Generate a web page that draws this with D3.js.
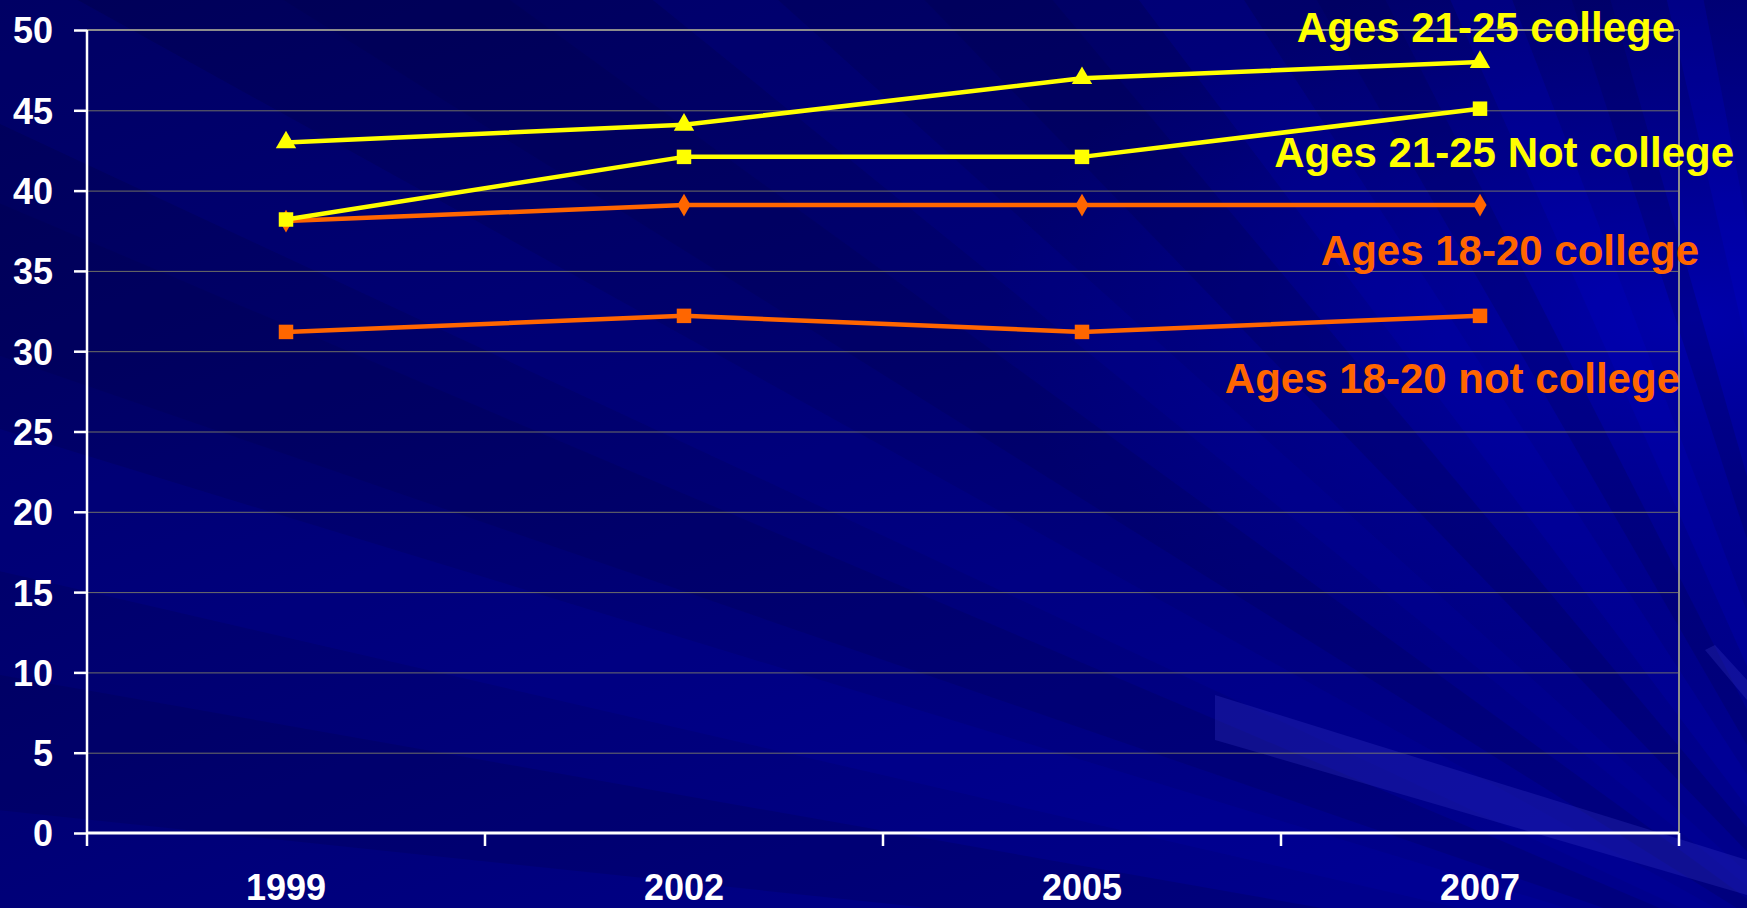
<!DOCTYPE html>
<html>
<head>
<meta charset="utf-8">
<script src="https://cdn.jsdelivr.net/npm/d3@7"></script>
<style>
  html, body { margin: 0; padding: 0; background: #00006e; overflow: hidden; }
  svg { display: block; }
  text { font-family: "Liberation Sans", Arial, sans-serif; font-weight: bold; }
</style>
</head>
<body>
<svg id="chart" width="1747" height="908"></svg>
<script>
// ---------------- DATA ----------------
const years = ["1999", "2002", "2005", "2007"];
const seriesNames = ["Ages 18-20 not college", "Ages 18-20 college", "Ages 21-25 Not college", "Ages 21-25 college"];
const notCollege1820 = [31.2, 32.2, 31.2, 32.2];
const college1820 = [38.1, 39.1, 39.1, 39.1];
const notCollege2125 = [38.2, 42.1, 42.1, 45.1];
const college2125 = [43, 44.1, 47, 48];
const yTickValues = [0, 5, 10, 15, 20, 25, 30, 35, 40, 45, 50];

// ---------------- LAYOUT / STYLE ----------------
const W = 1747, H = 908;
const plot = { left: 87, right: 1679, top: 30, bottom: 833 };
const ORANGE = "#ff6600", YELLOW = "#ffff00";
const seriesStyle = [
  { values: notCollege1820, color: ORANGE, marker: "square",  label: { x: 1680, y: 393 } },
  { values: college1820,    color: ORANGE, marker: "diamond", label: { x: 1699, y: 265 } },
  { values: notCollege2125, color: YELLOW, marker: "square",  label: { x: 1734, y: 167 } },
  { values: college2125,    color: YELLOW, marker: "triangle",label: { x: 1675, y: 42 } }
];

const svg = d3.select("#chart");

// ---------------- BACKGROUND (decorative) ----------------
const defs = svg.append("defs");
const bg = defs.append("linearGradient").attr("id", "bg")
  .attr("x1", "0").attr("y1", "0").attr("x2", "0.75").attr("y2", "1");
bg.append("stop").attr("offset", "0").attr("stop-color", "#000058");
bg.append("stop").attr("offset", "0.45").attr("stop-color", "#00006e");
bg.append("stop").attr("offset", "1").attr("stop-color", "#00008c");
svg.append("rect").attr("width", W).attr("height", H).attr("fill", "url(#bg)");

// right-side brighter glow
const glow = defs.append("radialGradient").attr("id", "glow")
  .attr("cx", "0.97").attr("cy", "0.35").attr("r", "0.4");
glow.append("stop").attr("offset", "0").attr("stop-color", "#0000b0").attr("stop-opacity", 0.9);
glow.append("stop").attr("offset", "1").attr("stop-color", "#00009c").attr("stop-opacity", 0);
svg.append("rect").attr("width", W).attr("height", H).attr("fill", "url(#glow)");

// radiating beams from lower right
const O = [1900, 1010];
const beams = [
  { a1: 186, a2: 190, c: "#000040", o: 0.2 },
  { a1: 193, a2: 197, c: "#0000c0", o: 0.14 },
  { a1: 199, a2: 203, c: "#000040", o: 0.18 },
  { a1: 205, a2: 209, c: "#0000c0", o: 0.12 },
  { a1: 212, a2: 216, c: "#000040", o: 0.18 },
  { a1: 219, a2: 222, c: "#0000c0", o: 0.12 },
  { a1: 226, a2: 230, c: "#000040", o: 0.2 },
  { a1: 233, a2: 237, c: "#0000d0", o: 0.15 },
  { a1: 240, a2: 243, c: "#000050", o: 0.25 },
  { a1: 246, a2: 249, c: "#0000d0", o: 0.18 },
  { a1: 252, a2: 254, c: "#000050", o: 0.25 },
  { a1: 257, a2: 259, c: "#0000e0", o: 0.18 }
];
const R = 3000;
beams.forEach(b => {
  const p = (a) => [O[0] + R * Math.cos(a * Math.PI / 180), O[1] + R * Math.sin(a * Math.PI / 180)];
  const p1 = p(b.a1), p2 = p(b.a2);
  svg.append("polygon")
    .attr("points", [O, p1, p2].map(d => d.join(",")).join(" "))
    .attr("fill", b.c).attr("opacity", b.o);
});
// light beam lower right
svg.append("polygon")
  .attr("points", "1215,695 1747,860 1747,895 1215,740")
  .attr("fill", "#4040d0").attr("opacity", 0.25);
svg.append("polygon")
  .attr("points", "1705,650 1715,645 1747,680 1747,700")
  .attr("fill", "#4040d0").attr("opacity", 0.25);

// ---------------- SCALES ----------------
const x = d3.scaleBand().domain(years).range([plot.left, plot.right]);
const y = d3.scaleLinear().domain([0, 50]).range([plot.bottom, plot.top]);

// ---------------- GRID ----------------
svg.append("g").selectAll("line")
  .data(yTickValues.filter(v => v > 0 && v < 50))
  .join("line")
  .attr("x1", plot.left).attr("x2", plot.right)
  .attr("y1", d => y(d) + 0.5).attr("y2", d => y(d) + 0.5)
  .attr("stroke", "#8a8a66").attr("stroke-width", 1).attr("opacity", 0.8);
// top and right borders
svg.append("line").attr("x1", plot.left).attr("x2", plot.right)
  .attr("y1", y(50)).attr("y2", y(50)).attr("stroke", "#8c8c8c").attr("stroke-width", 2);
svg.append("line").attr("x1", plot.right).attr("x2", plot.right)
  .attr("y1", y(50)).attr("y2", plot.bottom).attr("stroke", "#8c8c8c").attr("stroke-width", 2);

// ---------------- AXES ----------------
const yAxis = d3.axisLeft(y).tickValues(yTickValues).tickSize(13).tickPadding(8).tickFormat(d3.format("d"));
const gy = svg.append("g").attr("transform", `translate(${plot.left},0)`).call(yAxis);
gy.select(".domain").attr("stroke", "#ffffff").attr("stroke-width", 2.5).attr("d", `M0,${plot.top}V${plot.bottom}`);
gy.selectAll(".tick line").attr("stroke", "#ffffff").attr("stroke-width", 2.5);
gy.selectAll(".tick text").attr("fill", "#ffffff").attr("font-size", 36)
  .attr("x", -34).attr("dy", "0.36em");

// x axis: ticks at category boundaries
const boundaries = years.map(yr => x(yr)).concat([plot.right]);
const gx = svg.append("g").attr("transform", `translate(0,${plot.bottom})`);
gx.append("line").attr("x1", plot.left).attr("x2", plot.right).attr("y1", 0).attr("y2", 0)
  .attr("stroke", "#ffffff").attr("stroke-width", 3);
gx.selectAll("line.tk").data(boundaries).join("line").attr("class", "tk")
  .attr("x1", d => d).attr("x2", d => d).attr("y1", 0).attr("y2", 13)
  .attr("stroke", "#ffffff").attr("stroke-width", 2.5);
gx.selectAll("text").data(years).join("text")
  .attr("x", d => x(d) + x.bandwidth() / 2).attr("y", 67)
  .attr("text-anchor", "middle").attr("fill", "#ffffff").attr("font-size", 36)
  .text(d => d);

// ---------------- SERIES ----------------
const line = d3.line().x((d, i) => x(years[i]) + x.bandwidth() / 2).y(d => y(d));
const sym = {
  square: d3.symbol().type(d3.symbolSquare).size(210),
  diamond: d3.symbol().type(d3.symbolDiamond).size(150),
  triangle: d3.symbol().type(d3.symbolTriangle).size(180)
};
seriesStyle.forEach((s, k) => {
  const g = svg.append("g");
  g.append("path").attr("d", line(s.values)).attr("fill", "none")
    .attr("stroke", s.color).attr("stroke-width", 4.5).attr("stroke-linejoin", "round");
  g.selectAll("path.m").data(s.values).join("path").attr("class", "m")
    .attr("transform", (d, i) => `translate(${x(years[i]) + x.bandwidth() / 2},${y(d)})`)
    .attr("d", sym[s.marker]()).attr("fill", s.color);
  svg.append("text").attr("x", s.label.x).attr("y", s.label.y)
    .attr("text-anchor", "end")
    .attr("fill", s.color).attr("font-size", 42).text(seriesNames[k]);
});
</script>
</body>
</html>
